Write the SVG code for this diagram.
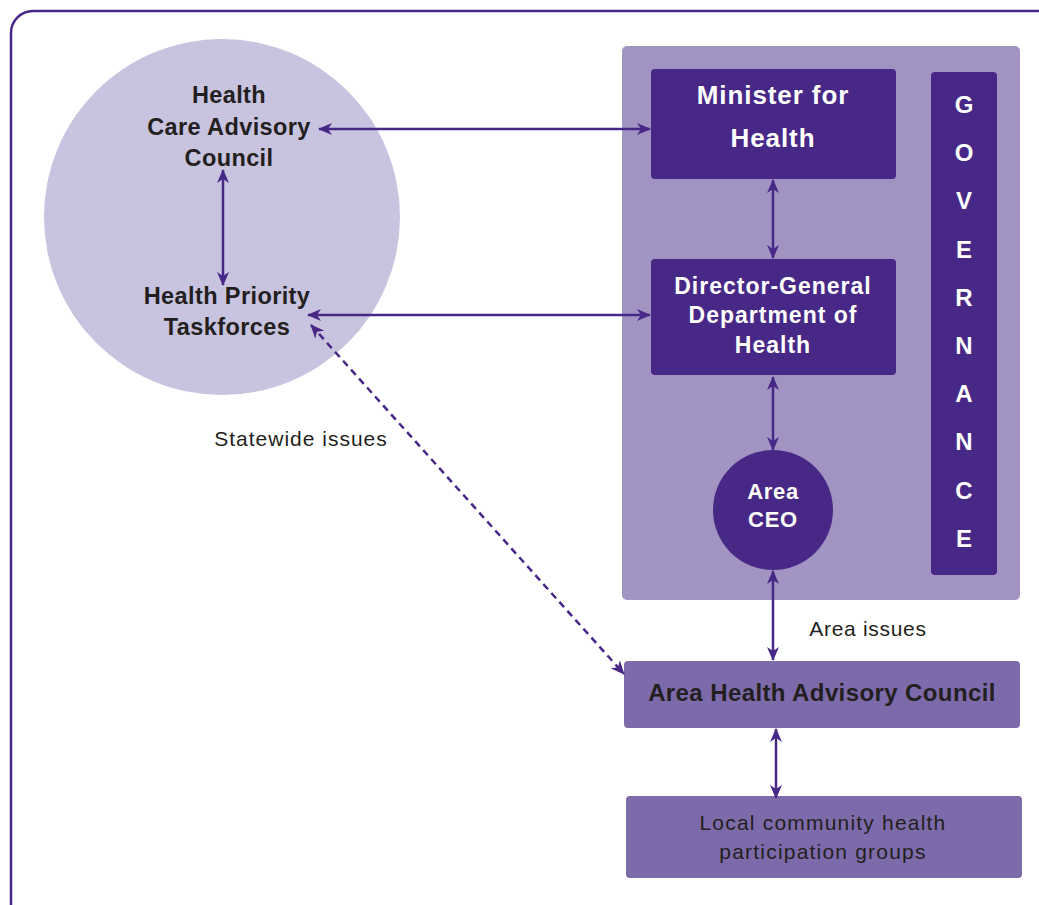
<svg xmlns="http://www.w3.org/2000/svg" width="1039" height="905" viewBox="0 0 1039 905">
<style>
.t{font-family:"Liberation Sans",Arial,sans-serif;text-anchor:middle}
.b{font-weight:bold}
.dk{fill:#231f20}
.w{fill:#ffffff}
.c{stroke:#482886;stroke-width:2.5;fill:none}
</style>
<defs>
<marker id="ah" viewBox="0 0 14 12" refX="13" refY="6" markerWidth="14" markerHeight="12" markerUnits="userSpaceOnUse" orient="auto-start-reverse">
<path d="M0,0 L14,6 L0,12 L4,6 z" fill="#482886"/>
</marker>
</defs>
<rect x="11" y="11" width="1060" height="930" rx="22" fill="#ffffff" stroke="#482886" stroke-width="2.5"/>
<g id="hcac-circle">
<circle cx="222" cy="217" r="178" fill="#c8c3df"/>
<g class="t b dk" font-size="23.5" letter-spacing="0.4">
<text x="229" y="103">Health</text>
<text x="229" y="135">Care Advisory</text>
<text x="229" y="166">Council</text>
<text x="227" y="304">Health Priority</text>
<text x="227" y="335">Taskforces</text>
</g>
</g>
<g id="gov-panel">
<rect x="622" y="46" width="398" height="554" rx="5" fill="#a194c3"/>
</g>
<g id="minister">
<rect x="651" y="69" width="245" height="110" rx="4" fill="#482886"/>
<g class="t b w" font-size="26" letter-spacing="0.9">
<text x="773" y="104">Minister for</text>
<text x="773" y="147">Health</text>
</g>
</g>
<g id="dg">
<rect x="651" y="259" width="245" height="116" rx="4" fill="#482886"/>
<g class="t b w" font-size="23" letter-spacing="1">
<text x="773" y="294">Director-General</text>
<text x="773" y="323">Department of</text>
<text x="773" y="353">Health</text>
</g>
</g>
<g id="ceo">
<circle cx="773" cy="510" r="60" fill="#482886"/>
<g class="t b w" font-size="22" letter-spacing="0.7">
<text x="773" y="499">Area</text>
<text x="773" y="527">CEO</text>
</g>
</g>
<g id="governance">
<rect x="931" y="72" width="66" height="503" rx="4" fill="#482886"/>
<g class="t b w" font-size="24">
<text x="964" y="113">G</text>
<text x="964" y="161">O</text>
<text x="964" y="209">V</text>
<text x="964" y="258">E</text>
<text x="964" y="306">R</text>
<text x="964" y="354">N</text>
<text x="964" y="402">A</text>
<text x="964" y="450">N</text>
<text x="964" y="499">C</text>
<text x="964" y="547">E</text>
</g>
</g>
<g id="ahac">
<rect x="624" y="661" width="396" height="67" rx="4" fill="#7d6aaa"/>
<text class="t b dk" font-size="24" letter-spacing="0.4" x="822" y="701">Area Health Advisory Council</text>
</g>
<g id="local">
<rect x="626" y="796" width="396" height="82" rx="4" fill="#7d6aaa"/>
<g class="t dk" font-size="21" letter-spacing="1.2">
<text x="823" y="830">Local community health</text>
<text x="823" y="859">participation groups</text>
</g>
</g>
<g id="labels">
<text class="t dk" font-size="21" letter-spacing="1" x="301" y="446">Statewide issues</text>
<text class="t dk" font-size="21" letter-spacing="0.7" x="868" y="636">Area issues</text>
</g>
<g id="connectors">
<line class="c" x1="319" y1="129" x2="650" y2="129" marker-start="url(#ah)" marker-end="url(#ah)"/>
<line class="c" x1="308" y1="315" x2="650" y2="315" marker-start="url(#ah)" marker-end="url(#ah)"/>
<line class="c" x1="223" y1="170" x2="223" y2="285" marker-start="url(#ah)" marker-end="url(#ah)"/>
<line class="c" x1="773" y1="180" x2="773" y2="258" marker-start="url(#ah)" marker-end="url(#ah)"/>
<line class="c" x1="773" y1="377" x2="773" y2="450" marker-start="url(#ah)" marker-end="url(#ah)"/>
<line class="c" x1="773" y1="571" x2="773" y2="660" marker-start="url(#ah)" marker-end="url(#ah)"/>
<line class="c" x1="776" y1="729" x2="776" y2="798" marker-start="url(#ah)" marker-end="url(#ah)"/>
<line class="c" x1="311" y1="325" x2="624" y2="674" stroke-dasharray="7,5" marker-start="url(#ah)" marker-end="url(#ah)"/>
</g>
</svg>
